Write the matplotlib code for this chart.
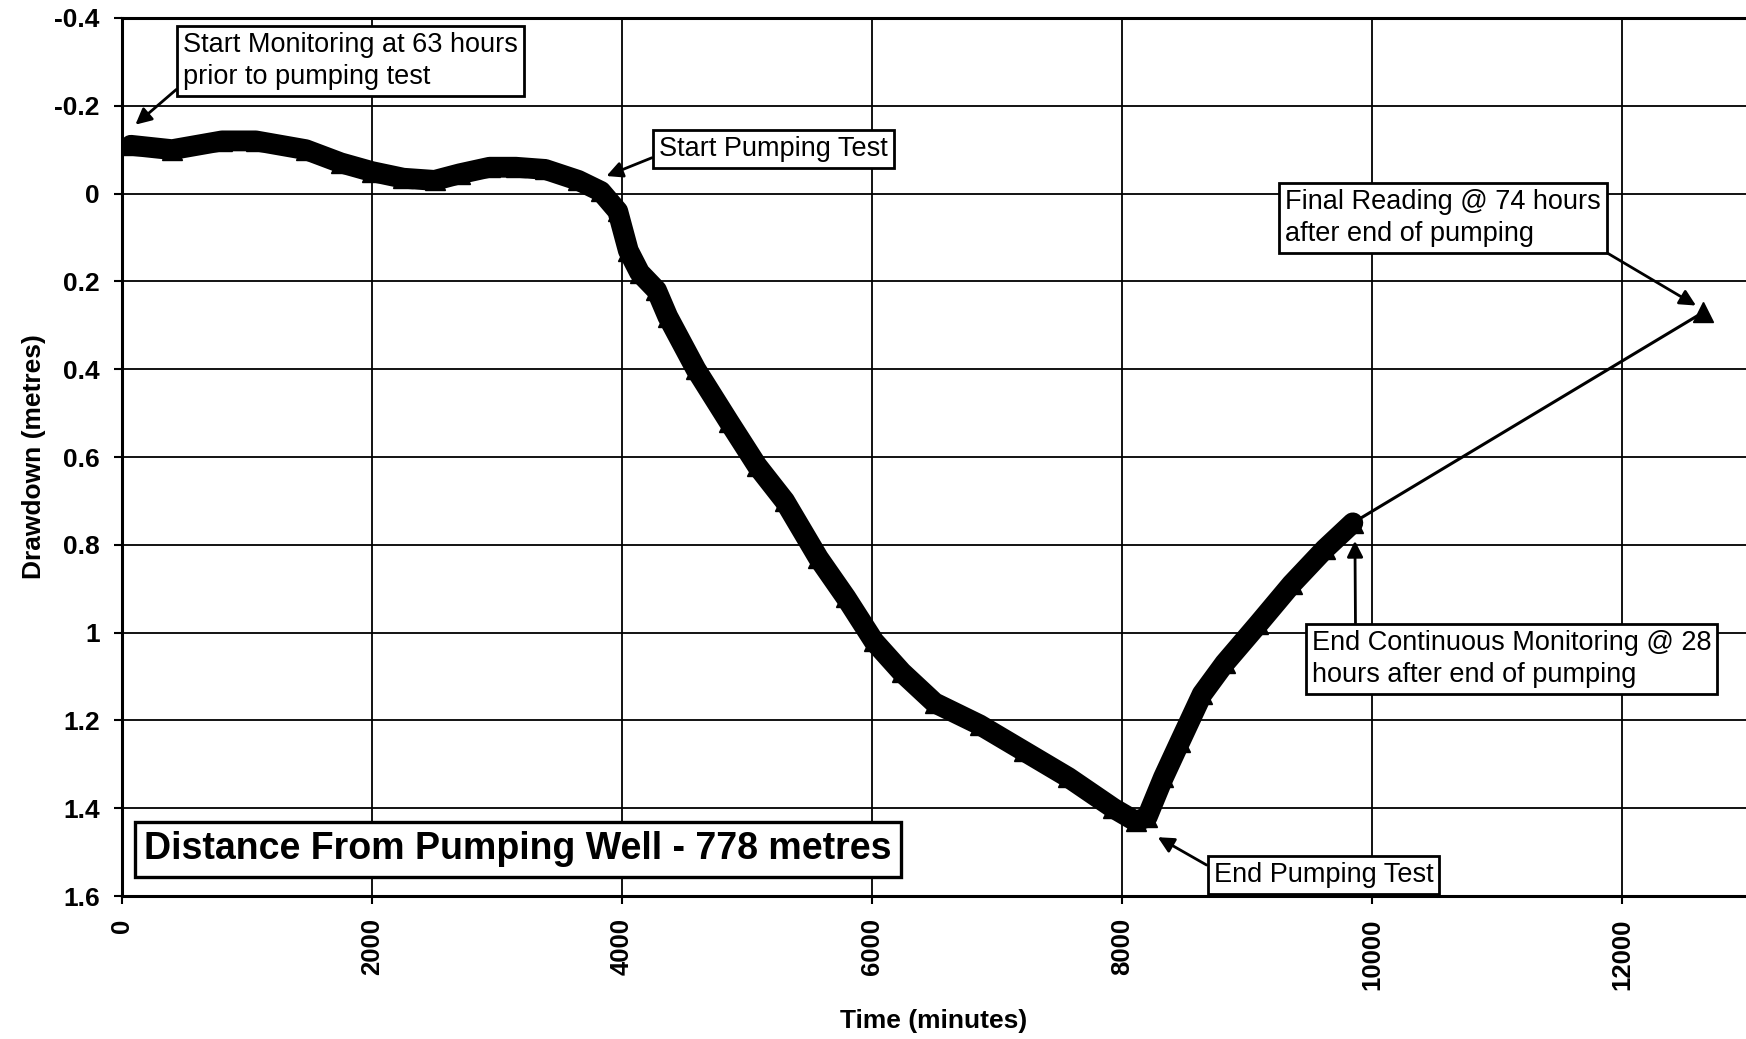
import matplotlib
matplotlib.use("Agg")
import matplotlib.pyplot as plt

plt.rcParams['font.family'] = ['Liberation Sans', 'DejaVu Sans']

# ---- data ----
time_min = [70, 400, 800, 1070, 1470, 1750, 2000, 2250, 2500, 2700, 2940, 3150, 3385,
            3650, 3830, 3965, 4050, 4140, 4275, 4365, 4590, 4855, 5080, 5300, 5570,
            5790, 6015, 6236, 6500, 6860, 7215, 7570, 7930, 8110, 8200, 8330, 8460,
            8640, 8820, 9090, 9355, 9620, 9845]
drawdown = [-0.11, -0.10, -0.12, -0.12, -0.10, -0.07, -0.05, -0.035, -0.03, -0.045,
            -0.06, -0.06, -0.055, -0.03, -0.005, 0.04, 0.13, 0.18, 0.22, 0.28, 0.40,
            0.52, 0.62, 0.70, 0.83, 0.92, 1.02, 1.09, 1.16, 1.21, 1.27, 1.33, 1.40,
            1.43, 1.42, 1.33, 1.25, 1.14, 1.07, 0.98, 0.89, 0.81, 0.75]
final_time = 12650
final_drawdown = 0.27

x_ticks = [0, 2000, 4000, 6000, 8000, 10000, 12000]
x_ticklabels = ['0', '2000', '4000', '6000', '8000', '10000', '12000']
y_ticks = [-0.4, -0.2, 0, 0.2, 0.4, 0.6, 0.8, 1.0, 1.2, 1.4, 1.6]
y_ticklabels = ['-0.4', '-0.2', '0', '0.2', '0.4', '0.6', '0.8', '1', '1.2', '1.4', '1.6']

annotations = [
    ("Start Monitoring at 63 hours\nprior to pumping test", (490, -0.301), (107, -0.157), (0.0, 0.12)),
    ("Start Pumping Test", (4294, -0.101), (3875, -0.04), (0.0, 0.28)),
    ("Final Reading @ 74 hours\nafter end of pumping", (9301, 0.056), (12590, 0.255), (0.99, 0.0)),
    ("End Continuous Monitoring @ 28\nhours after end of pumping", (9515, 1.06), (9862, 0.791), (0.11, 1.0)),
    ("End Pumping Test", (8731, 1.552), (8285, 1.466), (0.0, 0.73)),
]
title_text = "Distance From Pumping Well - 778 metres"
title_pos = (178, 1.494)

fig = plt.figure(figsize=(17.46, 10.39), dpi=100)
ax = fig.add_axes([0.0699, 0.1376, 0.9301, 0.8451])

ax.set_xlim(0, 12990)
ax.set_ylim(1.6, -0.4)

ax.grid(True, color='black', lw=1.3)
ax.set_axisbelow(True)

# thin line from last continuous reading to final reading
ax.plot([time_min[-1], final_time], [drawdown[-1], final_drawdown], color='black', lw=2.2,
        marker='^', markevery=[1], markersize=14, zorder=3)
# continuous monitoring (dense triangle markers appear as thick band)
ax.plot(time_min, drawdown, color='black', lw=15, solid_joinstyle='round',
        solid_capstyle='round', marker='^', markersize=15, zorder=4)

ax.set_xticks(x_ticks)
ax.set_xticklabels(x_ticklabels, rotation=90, fontsize=18.5, fontweight='bold')
ax.set_yticks(y_ticks)
ax.set_yticklabels(y_ticklabels, fontsize=19, fontweight='bold')
ax.tick_params(axis='both', direction='out', length=6, width=1.5, color='black')
ax.tick_params(axis='y', pad=10)
ax.tick_params(axis='x', pad=10)

for s in ['left', 'top', 'bottom']:
    ax.spines[s].set_linewidth(2.2)
ax.spines['right'].set_visible(False)

ax.set_xlabel("Time (minutes)", fontsize=19, fontweight='bold', labelpad=14)
ax.set_ylabel("Drawdown (metres)", fontsize=19, fontweight='bold', labelpad=6)

for text, xytext, xy, rp in annotations:
    ax.annotate(text, xy=xy, xytext=xytext, textcoords='data', ha='left', va='center',
                fontsize=19.5, linespacing=1.3, zorder=6,
                bbox=dict(boxstyle='square,pad=0.22', fc='white', ec='black', lw=2),
                arrowprops=dict(arrowstyle='-|>', color='black', lw=2, mutation_scale=24,
                                relpos=rp, shrinkA=0, shrinkB=0))

ax.text(title_pos[0], title_pos[1], title_text, ha='left', va='center', fontsize=27,
        fontweight='bold', zorder=6,
        bbox=dict(boxstyle='square,pad=0.25', fc='white', ec='black', lw=2.4))

fig.savefig('out.png', dpi=100)
